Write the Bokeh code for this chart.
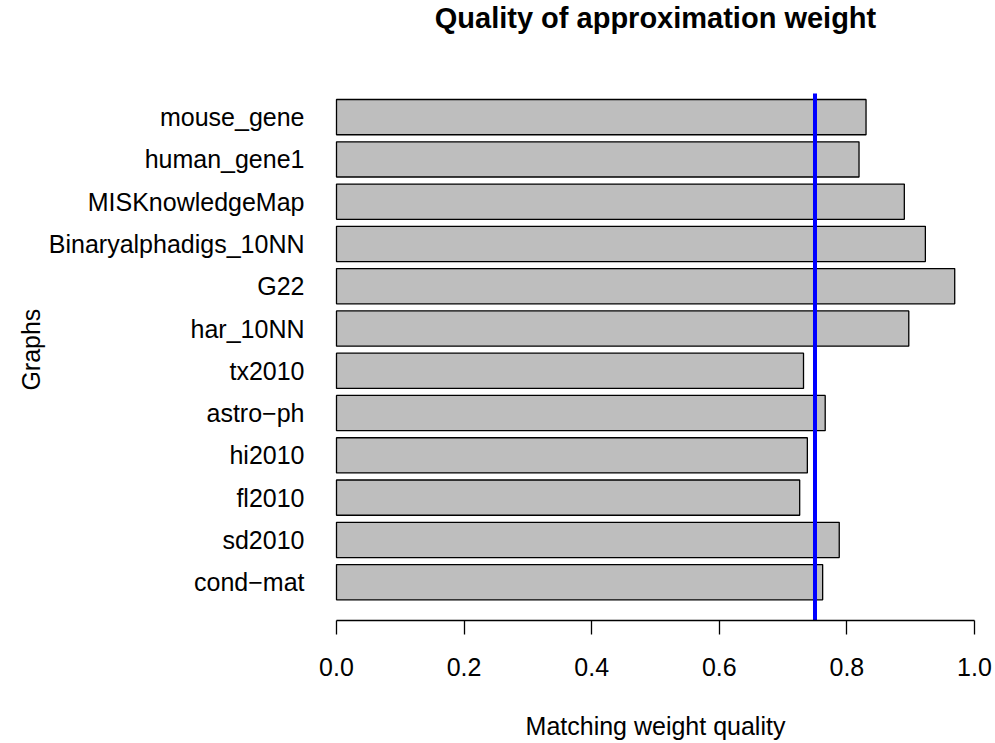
import math
from bokeh.plotting import figure
from bokeh.models import Range1d, FixedTicker, ColumnDataSource, Label, LinearAxis
from bokeh.embed import file_html
from bokeh.resources import INLINE

# ---- data (top to bottom as shown) ----
graphs = ["mouse_gene", "human_gene1", "MISKnowledgeMap", "Binaryalphadigs_10NN",
          "G22", "har_10NN", "tx2010", "astro\u2212ph", "hi2010", "fl2010",
          "sd2010", "cond\u2212mat"]
quality = [0.830, 0.819, 0.890, 0.923, 0.969, 0.897, 0.732, 0.766, 0.738,
           0.726, 0.788, 0.762]
threshold = 0.75
x_ticks = [0.0, 0.2, 0.4, 0.6, 0.8, 1.0]
x_tick_labels = ["0.0", "0.2", "0.4", "0.6", "0.8", "1.0"]
title_text = "Quality of approximation weight"
x_title = "Matching weight quality"
y_title = "Graphs"

# bottom-to-top order for plotting
names_bt = graphs[::-1]
vals_bt = quality[::-1]
pos = list(range(len(names_bt)))

FONT = "Liberation Sans"
FS = "25px"

# layout: frame spans canvas top (0 px) to the x axis (620 px)
FRAME_H = 620
PX_PER_UNIT = 42.28            # pixels per bar slot
Y0 = -0.906                    # bottom of frame in slot units
Y1 = Y0 + FRAME_H / PX_PER_UNIT
line_top = (len(pos) - 1) + 23.6 / PX_PER_UNIT   # threshold line ends just above top bar
title_y = Y1 - 17 / PX_PER_UNIT                   # title baseline near canvas top
# rotated tick label ends at its tick, so shift by half its length to centre it
y_title_at = (len(pos) - 1) / 2 + 41 / PX_PER_UNIT

p = figure(width=995, height=743, output_backend="svg", toolbar_location=None,
           x_range=Range1d(-0.03135, 1.03135), y_range=Range1d(Y0, Y1),
           min_border_left=316, min_border_right=1, min_border_top=0,
           min_border_bottom=743 - FRAME_H)

p.background_fill_color = "white"
p.border_fill_color = "white"
p.outline_line_color = None
p.xgrid.visible = False
p.ygrid.visible = False

src = ColumnDataSource(dict(y=pos, right=vals_bt, left=[0] * len(pos)))
p.hbar(y="y", left="left", right="right", height=1 / 1.2, source=src,
       fill_color="#BEBEBE", line_color="black", line_width=1.3)

p.segment(x0=[threshold], y0=[Y0], x1=[threshold], y1=[line_top],
          line_color="#0000FF", line_width=4)

p.add_layout(Label(x=0.5, y=title_y, text=title_text,
                   text_align="center", text_baseline="alphabetic",
                   text_font=FONT, text_font_size="29px", text_font_style="bold",
                   text_color="black"))

# x axis
xa = p.xaxis[0]
xa.ticker = FixedTicker(ticks=x_ticks)
xa.major_label_overrides = {t: l for t, l in zip(x_ticks, x_tick_labels)}
xa.bounds = (0, 1)
xa.axis_line_color = "black"
xa.axis_line_width = 1.3
xa.major_tick_line_color = "black"
xa.major_tick_line_width = 1.3
xa.major_tick_in = 0
xa.major_tick_out = 14
xa.minor_tick_in = 0
xa.minor_tick_out = 0
xa.major_label_standoff = 23
xa.major_label_text_font = FONT
xa.major_label_text_font_size = FS
xa.major_label_text_color = "black"
xa.axis_label = x_title
xa.axis_label_text_font = FONT
xa.axis_label_text_font_size = FS
xa.axis_label_text_font_style = "normal"
xa.axis_label_text_color = "black"
xa.axis_label_standoff = 33

# y axis (category names)
ya = p.yaxis[0]
ya.ticker = FixedTicker(ticks=pos)
ya.major_label_overrides = {i: n for i, n in zip(pos, names_bt)}
ya.axis_line_color = None
ya.major_tick_line_color = None
ya.major_tick_in = 0
ya.major_tick_out = 0
ya.minor_tick_line_color = None
ya.major_label_standoff = 12
ya.major_label_text_font = FONT
ya.major_label_text_font_size = FS
ya.major_label_text_color = "black"

# outer left axis carrying the y title, centred on the bar block
ga = LinearAxis(ticker=FixedTicker(ticks=[y_title_at]),
                major_label_overrides={y_title_at: y_title},
                major_label_orientation=math.pi / 2)
ga.axis_line_color = None
ga.major_tick_line_color = None
ga.major_tick_in = 0
ga.major_tick_out = 0
ga.minor_tick_line_color = None
ga.major_label_standoff = 14
ga.major_label_text_font = FONT
ga.major_label_text_font_size = FS
ga.major_label_text_color = "black"
p.add_layout(ga, "left")

open("out.html", "w").write(file_html(p, INLINE))
